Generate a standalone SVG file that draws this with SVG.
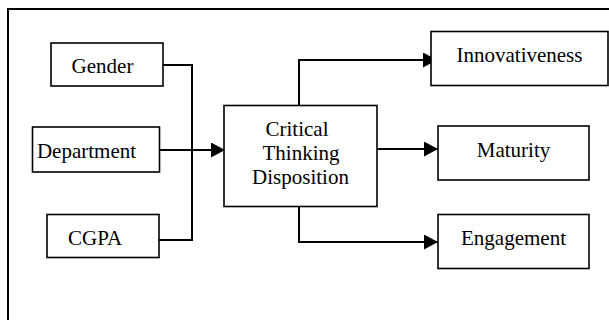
<svg xmlns="http://www.w3.org/2000/svg" width="609" height="320" viewBox="0 0 609 320">
<defs>
<style>
.box{fill:#fff;stroke:#000;stroke-width:1.6}
.t{font-family:"Liberation Serif","Times New Roman",serif;font-size:21px;fill:#000;text-anchor:middle}
.c{fill:none;stroke:#000;stroke-width:2}
</style>
<marker id="ah" markerWidth="14" markerHeight="15" refX="14" refY="7.5" orient="auto" markerUnits="userSpaceOnUse">
<path d="M0,0 L14,7.5 L0,15 Z" fill="#000"/>
</marker>
</defs>
<rect width="609" height="320" fill="#fff"/>
<path d="M8,320 V9 H609" fill="none" stroke="#000" stroke-width="2"/>
<g id="connectors">
<path class="c" d="M163,65 H192 V240 H159"/>
<path class="c" d="M157,150 H225" marker-end="url(#ah)"/>
<path class="c" d="M299,105 V60 H437" marker-end="url(#ah)"/>
<path class="c" d="M377,149 H438" marker-end="url(#ah)"/>
<path class="c" d="M299,207 V242 H438" marker-end="url(#ah)"/>
</g>
<g id="gender"><rect class="box" x="51" y="43" width="112" height="43"/><text class="t" x="102.5" y="73">Gender</text></g>
<g id="department"><rect class="box" x="32.5" y="127" width="127" height="45"/><text class="t" x="86.5" y="158">Department</text></g>
<g id="cgpa"><rect class="box" x="47" y="214.5" width="112" height="43"/><text class="t" x="95" y="245">CGPA</text></g>
<g id="ctd"><rect class="box" x="224" y="105.5" width="153" height="101"/>
<text class="t" x="297" y="136">Critical</text>
<text class="t" x="301" y="159.5">Thinking</text>
<text class="t" x="300.5" y="184">Disposition</text></g>
<g id="innovativeness"><rect class="box" x="431" y="31.5" width="177" height="54"/><text class="t" x="519.5" y="62">Innovativeness</text></g>
<g id="maturity"><rect class="box" x="438" y="126" width="151" height="54"/><text class="t" x="513.5" y="157">Maturity</text></g>
<g id="engagement"><rect class="box" x="438" y="214.5" width="151" height="54"/><text class="t" x="513.5" y="245">Engagement</text></g>
</svg>
